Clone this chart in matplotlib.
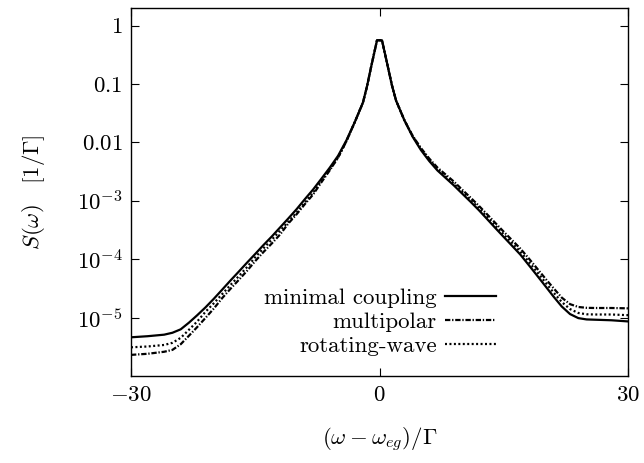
import matplotlib
matplotlib.use("Agg")
import matplotlib.pyplot as plt
import matplotlib.ticker as ticker

plt.rcParams['font.family'] = ['cmr10', 'DejaVu Serif']
plt.rcParams['mathtext.fontset'] = 'cm'
plt.rcParams['axes.unicode_minus'] = False

FS = 16.5

# detuning (omega - omega_eg)/Gamma
x = [-30, -28, -26, -25, -24, -23, -22, -21, -20, -19, -18, -17, -16, -15,
     -14, -13, -12, -11, -10, -9, -8, -7, -6, -5, -4, -3, -2, -1.5, -1,
     -0.6, -0.3, 0, 0.3, 0.6, 1, 1.5, 2, 3, 4, 5, 6, 7, 8, 9, 10, 11, 12,
     13, 14, 15, 16, 17, 18, 19, 20, 21, 22, 23, 24, 25, 26, 28, 30]

# spectra S(omega) in units of 1/Gamma (peak part is common to all three)
peak = [2.2e-2, 4.8e-2, 9.2e-2, 0.2, 0.36, 0.56, 0.56, 0.56, 0.36, 0.2,
        0.095, 0.052, 0.024]

s_minimal = ([4.6e-6, 4.8e-6, 5.1e-6, 5.5e-6, 6.3e-6, 8.2e-6, 1.1e-5, 1.5e-5,
              2.1e-5, 3.0e-5, 4.3e-5, 6.1e-5, 8.7e-5, 1.23e-4, 1.75e-4, 2.45e-4,
              3.5e-4, 5.0e-4, 7.2e-4, 1.07e-3, 1.57e-3, 2.4e-3, 3.7e-3, 5.9e-3,
              1.08e-2]
             + peak
             + [1.25e-2, 7.4e-3, 4.8e-3, 3.3e-3, 2.45e-3, 1.82e-3, 1.32e-3,
                9.6e-4, 6.9e-4, 4.85e-4, 3.4e-4, 2.4e-4, 1.7e-4, 1.2e-4, 8.0e-5,
                5.3e-5, 3.5e-5, 2.3e-5, 1.55e-5, 1.15e-5, 9.8e-6, 9.3e-6,
                9.2e-6, 9.0e-6, 8.6e-6])

s_multipolar = ([2.3e-6, 2.4e-6, 2.6e-6, 2.8e-6, 3.5e-6, 4.9e-6, 6.9e-6, 9.9e-6,
                 1.43e-5, 2.15e-5, 3.1e-5, 4.4e-5, 6.3e-5, 9.3e-5, 1.33e-4,
                 1.86e-4, 2.65e-4, 4.1e-4, 5.9e-4, 8.8e-4, 1.29e-3, 2.09e-3,
                 3.33e-3, 5.5e-3, 1.04e-2]
                + peak
                + [1.3e-2, 8.0e-3, 5.3e-3, 3.7e-3, 2.8e-3, 2.12e-3, 1.54e-3,
                   1.13e-3, 8.2e-4, 5.85e-4, 4.15e-4, 2.95e-4, 2.12e-4, 1.52e-4,
                   1.04e-4, 7.0e-5, 4.7e-5, 3.2e-5, 2.2e-5, 1.7e-5, 1.52e-5,
                   1.47e-5, 1.46e-5, 1.46e-5, 1.44e-5])

s_rwa = ([3.1e-6, 3.2e-6, 3.4e-6, 3.7e-6, 4.5e-6, 6.2e-6, 8.6e-6, 1.26e-5,
          1.76e-5, 2.52e-5, 3.6e-5, 5.1e-5, 7.3e-5, 1.08e-4, 1.54e-4, 2.16e-4,
          3.08e-4, 4.4e-4, 6.3e-4, 9.4e-4, 1.38e-3, 2.23e-3, 3.45e-3, 5.5e-3,
          1.05e-2]
         + peak
         + [1.28e-2, 7.7e-3, 5.05e-3, 3.5e-3, 2.6e-3, 1.95e-3, 1.42e-3, 1.04e-3,
            7.5e-4, 5.3e-4, 3.75e-4, 2.65e-4, 1.9e-4, 1.35e-4, 9.1e-5, 6.1e-5,
            4.05e-5, 2.7e-5, 1.85e-5, 1.4e-5, 1.2e-5, 1.14e-5, 1.13e-5,
            1.13e-5, 1.1e-5])

labels = ["minimal coupling", "multipolar", "rotating-wave"]
styles = ['-', (0, (2.4, 0.8, 0.6, 0.8)), (0, (0.9, 1.1))]

xticks = [-30, 0, 30]
xtick_labels = [r'$-30$', r'$0$', r'$30$']
yticks = [1, 0.1, 0.01, 1e-3, 1e-4, 1e-5]
ytick_labels = [r'$1$', r'$0.1$', r'$0.01$', r'$10^{-3}$', r'$10^{-4}$', r'$10^{-5}$']

fig = plt.figure(figsize=(6.44, 4.63), dpi=100)
ax = fig.add_axes([131/644, 1 - 376/463, 497/644, 368/463])

for y, ls, lab in zip([s_minimal, s_multipolar, s_rwa], styles, labels):
    ax.plot(x, y, color='black', linestyle=ls, linewidth=1.6, label=lab)

ax.set_yscale('log')
ax.set_xlim(-30, 30)
ax.set_ylim(1e-6, 2)

ax.xaxis.set_major_locator(ticker.FixedLocator(xticks))
ax.xaxis.set_major_formatter(ticker.FixedFormatter(xtick_labels))
ax.yaxis.set_major_locator(ticker.FixedLocator(yticks))
ax.yaxis.set_major_formatter(ticker.FixedFormatter(ytick_labels))
ax.yaxis.set_minor_locator(ticker.NullLocator())
ax.xaxis.set_minor_locator(ticker.NullLocator())

ax.tick_params(which='major', direction='in', length=6, width=0.8,
               top=True, right=True, labelsize=FS)
ax.tick_params(axis='x', pad=7)
ax.tick_params(axis='y', pad=6)
for sp in ax.spines.values():
    sp.set_linewidth(1.0)

ax.set_xlabel(r'$(\omega-\omega_{eg})/\Gamma$', fontsize=FS)
ax.set_ylabel(r'$S(\omega)\quad[1/\Gamma]$', fontsize=FS)
ax.xaxis.set_label_coords(0.5, -0.135)
ax.yaxis.set_label_coords(-0.17, 0.5)

ax.legend(loc='lower right', bbox_to_anchor=(0.735, 0.053), frameon=False,
          markerfirst=False, handlelength=2.25, labelspacing=0.19,
          fontsize=FS, handletextpad=0.35, borderpad=0, borderaxespad=0)

fig.savefig("out.png", dpi=100)
